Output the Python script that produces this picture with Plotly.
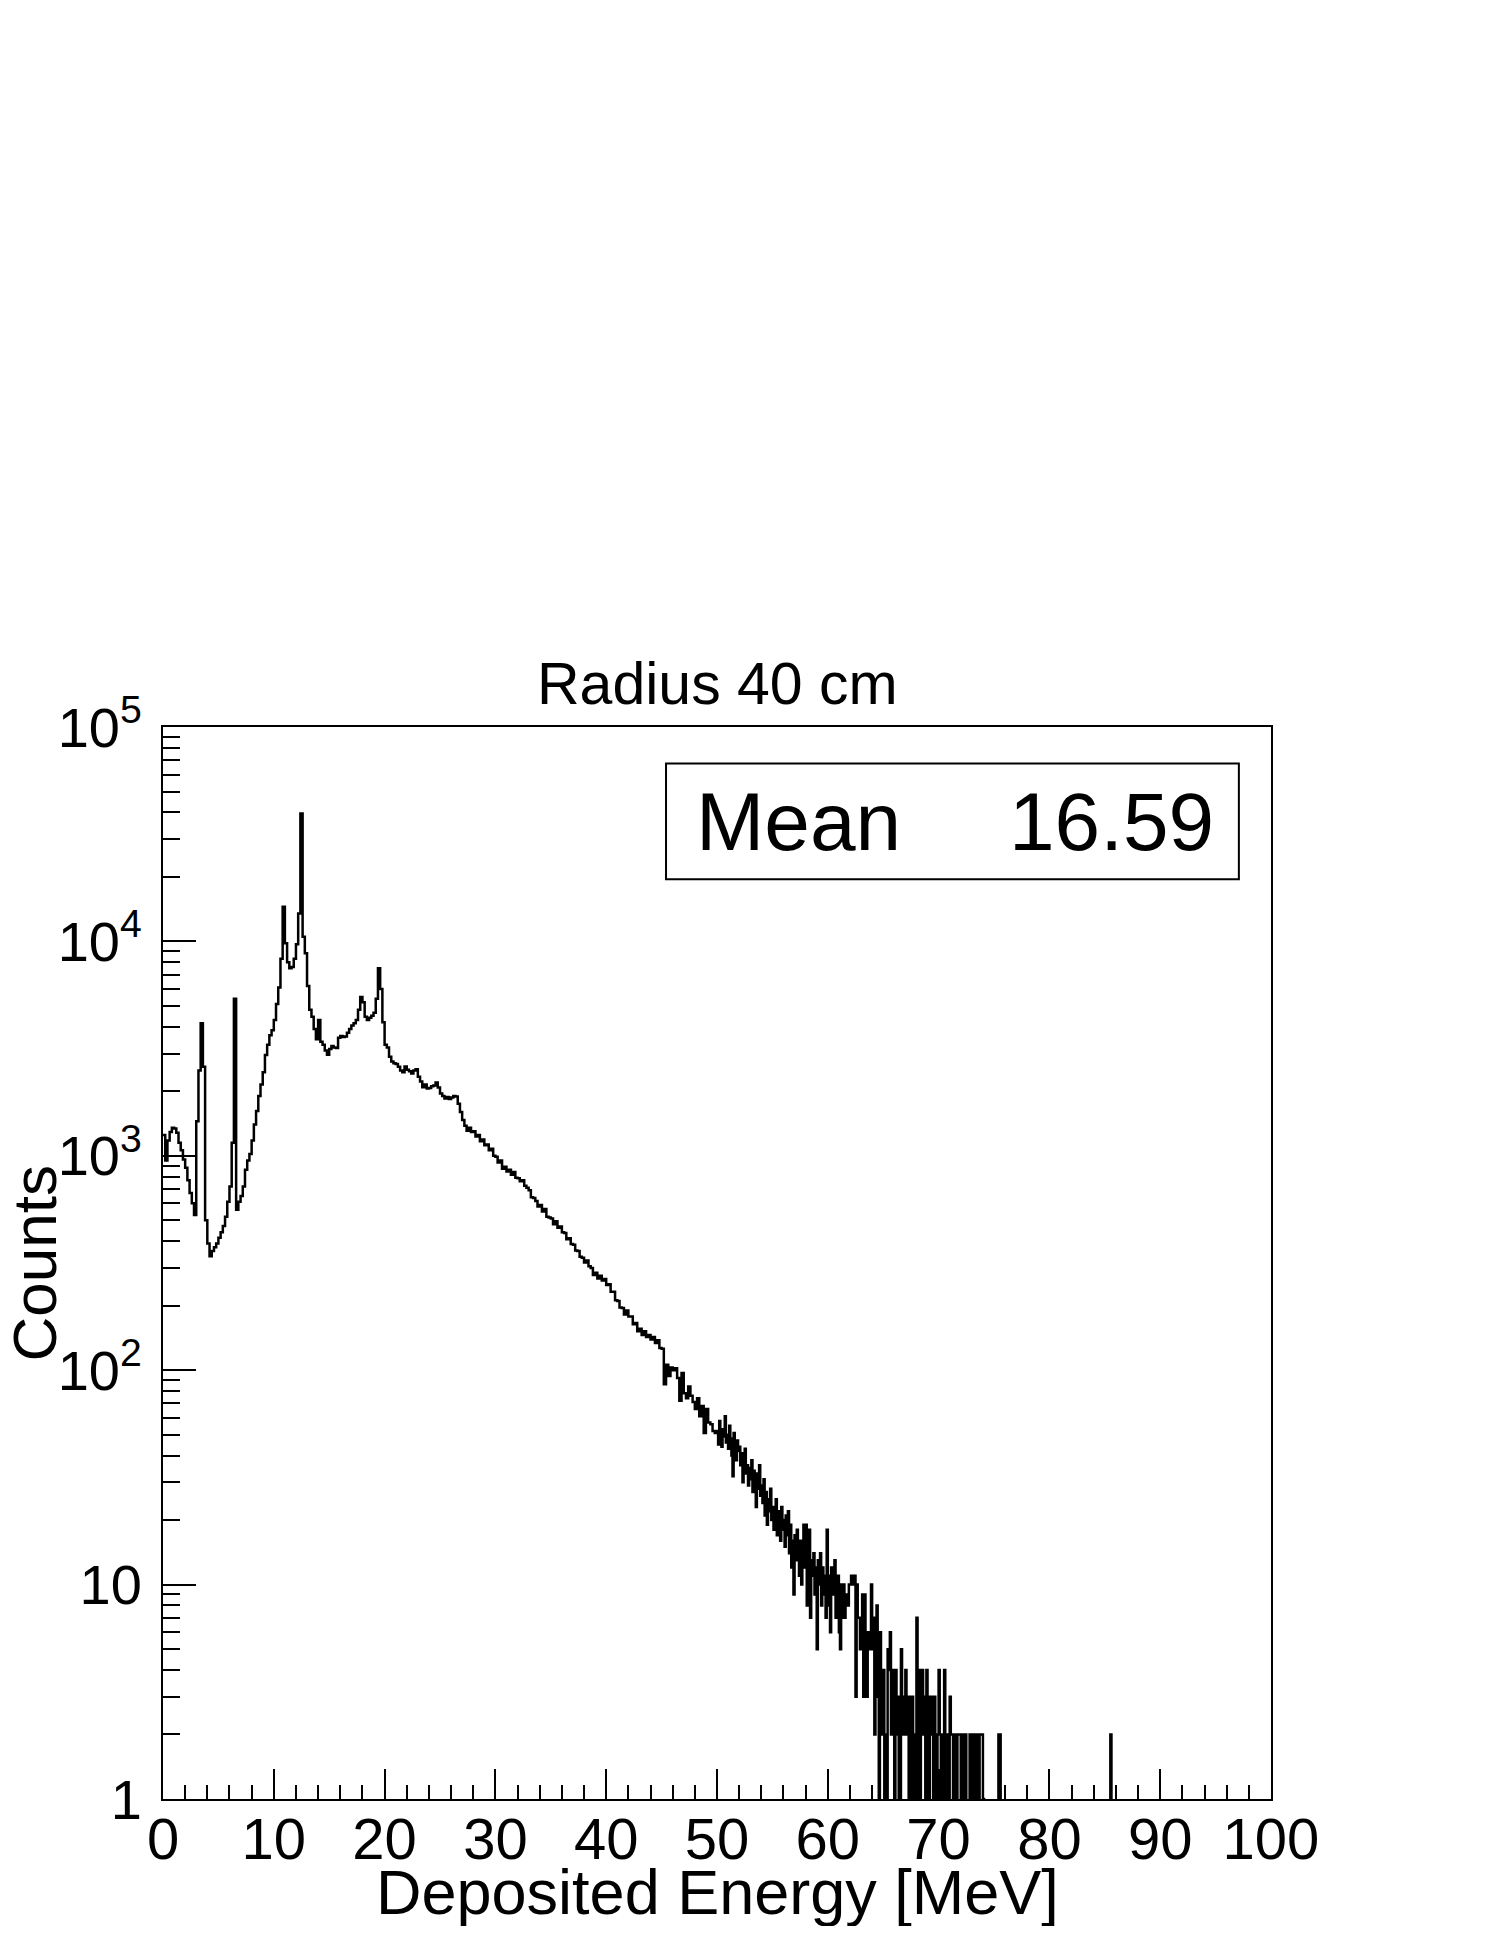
import numpy as np
import plotly.graph_objects as go

# ---------------- data ----------------
# Counts per 0.1 MeV bin, read every 0.2 MeV (each value covers two 0.1 MeV bins)
counts_0_10 = [1250, 950, 1180, 1290, 1350, 1340, 1280, 1150, 1060, 960,
               880, 770, 670, 600, 530, 1450, 2500, 4150, 2600, 500,
               390, 340, 360, 375, 390, 415, 440, 470, 520, 610,
               720, 1150, 5400, 560, 610, 650, 720, 860, 950, 1020,
               1180, 1400, 1620, 1900, 2150, 2450, 2950, 3300, 3650, 3850]
counts_10_20 = [4300, 5100, 6100, 8300, 14500, 9800, 8000, 7500, 7600, 8300,
                9700, 13500, 39500, 10500, 8800, 6200, 4800, 4450, 3900, 3500,
                4300, 3400, 3300, 3100, 2960, 3150, 3250, 3200, 3180, 3550,
                3620, 3580, 3600, 3750, 3900, 4050, 4150, 4300, 4800, 5500,
                5200, 4450, 4300, 4400, 4500, 4650, 5400, 7500, 6000, 4200]
counts_20_30 = [3300, 3200, 2900, 2750, 2700, 2680, 2600, 2500, 2450, 2610,
                2520, 2480, 2420, 2500, 2530, 2340, 2220, 2090, 2150, 2060,
                2070, 2110, 2130, 2200, 2080, 1950, 1900, 1850, 1880, 1840,
                1870, 1900, 1890, 1750, 1600, 1470, 1380, 1310, 1350, 1290,
                1300, 1230, 1250, 1170, 1190, 1120, 1130, 1060, 1080, 1000]
counts_30_40 = [990, 930, 950, 870, 890, 845, 860, 815, 840, 790,
                785, 760, 770, 725, 710, 690, 640, 635, 615, 580,
                590, 550, 565, 520, 515, 510, 480, 495, 462, 468,
                440, 436, 408, 412, 388, 385, 362, 360, 338, 335,
                318, 325, 305, 300, 278, 285, 268, 276, 262, 266]
counts_40_50 = [250, 252, 232, 232, 212, 210, 196, 195, 182, 190,
                178, 178, 164, 166, 152, 156, 146, 152, 143, 146,
                139, 143, 134, 138, 127, 126, 86, 106, 94, 103,
                100, 102, 92, 72, 97, 78, 74, 84, 76, 71,
                66, 74, 61, 68, 51, 66, 57, 56, 52, 51]

# Counts per 0.1 MeV bin, 50.0 - 75.9 MeV
counts_50_60 = [52, 45, 58, 47, 44, 53, 49, 61, 46, 50,
                43, 55, 48, 40, 32, 51, 45, 38, 47, 42,
                44, 36, 41, 30, 38, 43, 33, 36, 29, 35,
                31, 38, 27, 34, 30, 23, 33, 28, 36, 26,
                29, 24, 31, 21, 27, 19, 25, 22, 28, 20,
                23, 18, 21, 25, 17, 22, 19, 16, 23, 20,
                18, 15, 21, 17, 22, 14, 19, 12, 16, 9,
                17, 13, 18, 15, 11, 16, 10, 14, 19, 12,
                19, 8, 15, 18, 7, 13, 11, 14, 9, 12,
                5, 13, 10, 14, 8, 12, 9, 11, 7, 18]
counts_60_70 = [8, 11, 6, 12, 9, 10, 13, 7, 9, 11,
                6, 5, 10, 7, 10, 7, 9, 9, 8, 10,
                10, 11, 11, 10, 11, 3, 10, 7, 7, 5,
                5, 9, 3, 9, 3, 3, 6, 6, 5, 10,
                5, 7, 2, 3, 8, 3, 1, 6, 4, 2,
                4, 1, 2, 0, 5, 4, 6, 2, 4, 2,
                0, 4, 2, 3, 1, 0, 5, 3, 2, 3,
                4, 2, 3, 0, 3, 1, 3, 2, 0, 2,
                7, 1, 4, 0, 3, 4, 2, 3, 0, 4,
                3, 1, 3, 2, 3, 0, 3, 2, 0, 2]
counts_70_76 = [4, 2, 1, 2, 0, 4, 1, 2, 0, 1,
                3, 2, 2, 0, 2, 2, 1, 2, 2, 2,
                0, 2, 2, 1, 2, 0, 0, 0, 2, 0,
                2, 2, 0, 2, 1, 2, 0, 2, 2, 2,
                1, 0, 0, 0, 0, 0, 0, 0, 0, 0,
                0, 0, 0, 0, 2, 2, 0, 0, 0, 0]
far_tail_energy = [85.5]
far_tail_counts = [2]

bin_width = 0.1
n_bins = 1000
x_tick_values = [0, 10, 20, 30, 40, 50, 60, 70, 80, 90, 100]
y_tick_values = [1, 10, 100, 1000, 10000, 100000]
y_tick_text = ["1", "10", "10<sup>2</sup>", "10<sup>3</sup>", "10<sup>4</sup>", "10<sup>5</sup>"]
title_text = "Radius 40 cm"
mean_text = "16.59"

# ---------------- build histogram ----------------
coarse = counts_0_10 + counts_10_20 + counts_20_30 + counts_30_40 + counts_40_50
fine = counts_50_60 + counts_60_70 + counts_70_76
counts = np.zeros(n_bins)
counts[:2 * len(coarse)] = np.repeat(coarse, 2)
counts[2 * len(coarse):2 * len(coarse) + len(fine)] = fine
for e, c in zip(far_tail_energy, far_tail_counts):
    counts[int(round(e / bin_width))] = c

edges = np.arange(n_bins + 1) * bin_width
x_step = edges
y_step = np.append(counts, counts[-1])
y_plot = np.where(y_step > 0, y_step, 0.1)  # empty bins drop to the frame bottom

FONT = "Liberation Sans, Arial, Helvetica, sans-serif"

fig = go.Figure()
fig.add_trace(go.Scatter(x=x_step, y=y_plot, mode="lines", line_shape="hv",
                         line=dict(color="black", width=2.5), showlegend=False,
                         hoverinfo="skip"))

# page body adds an 8 px offset; figure sized so the frame lands where the reference has it
fig.update_layout(
    width=1480, height=1918,
    margin=dict(l=155, r=217, t=719, b=127),
    paper_bgcolor="white", plot_bgcolor="white",
    font=dict(family=FONT, color="black"),
    showlegend=False,
)
fig.update_xaxes(
    range=[0, 100], showgrid=False, zeroline=False,
    showline=True, linecolor="black", linewidth=2, mirror=True,
    tickmode="array", tickvals=x_tick_values,
    ticks="inside", ticklen=30, tickwidth=2, tickcolor="black",
    minor=dict(dtick=2, ticks="inside", ticklen=14, tickwidth=2, tickcolor="black", showgrid=False),
    tickfont=dict(size=58, family=FONT, color="black"),
    ticklabelstandoff=-12,
)
fig.update_yaxes(
    type="log", range=[0, 5], showgrid=False, zeroline=False,
    showline=True, linecolor="black", linewidth=2, mirror=True,
    tickmode="array", tickvals=y_tick_values, ticktext=y_tick_text,
    ticks="inside", ticklen=33, tickwidth=2, tickcolor="black",
    minor=dict(dtick="D1", ticks="inside", ticklen=17, tickwidth=2, tickcolor="black", showgrid=False),
    tickfont=dict(size=56, family=FONT, color="black"),
    ticklabelstandoff=8,
)

# title
fig.add_annotation(text=title_text, xref="paper", yref="paper", x=0.5, y=1,
                   xanchor="center", yanchor="bottom", yshift=8, showarrow=False,
                   font=dict(size=59, family=FONT, color="black"))
# axis titles
fig.add_annotation(text="Deposited Energy [MeV]", xref="paper", yref="paper", x=0.5, y=0,
                   xanchor="center", yanchor="top", yshift=-56, showarrow=False,
                   font=dict(size=63, family=FONT, color="black"))
fig.add_annotation(text="Counts", xref="paper", yref="paper", x=-0.1160, y=0.5,
                   xanchor="center", yanchor="middle", textangle=-90, showarrow=False,
                   font=dict(size=62, family=FONT, color="black"))
# stats box
fig.add_shape(type="rect", xref="paper", yref="paper", x0=0.454, x1=0.971, y0=0.858, y1=0.966,
              line=dict(color="black", width=2), fillcolor="white", layer="above")
fig.add_annotation(text="Mean", xref="paper", yref="paper", x=0.479, y=0.912,
                   xanchor="left", yanchor="middle", showarrow=False,
                   font=dict(size=82, family=FONT, color="black"))
fig.add_annotation(text=mean_text, xref="paper", yref="paper", x=0.950, y=0.912,
                   xanchor="right", yanchor="middle", showarrow=False,
                   font=dict(size=82, family=FONT, color="black"))

fig.write_html("out.html")
